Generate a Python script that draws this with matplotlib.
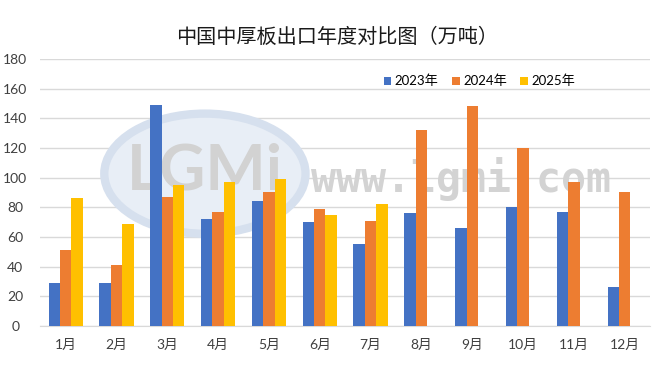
import matplotlib
matplotlib.use("Agg")
import matplotlib.pyplot as plt
from matplotlib.patches import Ellipse
from matplotlib.ticker import MultipleLocator
import numpy as np

plt.rcParams['font.family'] = ['Lato', 'Noto Sans CJK SC', 'DejaVu Sans']

months = ['1月', '2月', '3月', '4月', '5月', '6月', '7月', '8月', '9月', '10月', '11月', '12月']
series_names = ['2023年', '2024年', '2025年']
exports_2023 = [29, 29, 149, 72, 84, 70, 55, 76, 66, 80, 77, 26]
exports_2024 = [51, 41, 87, 77, 90, 79, 71, 132, 148, 120, 97, 90]
exports_2025 = [86, 69, 95, 97, 99, 75, 82]
colors = ['#4472C4', '#ED7D31', '#FFC000']


def main():
    fig = plt.figure(figsize=(6.6, 3.75), dpi=100)
    ax = fig.add_axes([0.061, 0.131, 0.924, 0.712])

    # faint watermark behind the bars
    wm = Ellipse((0.27, 0.57), 0.33, 0.45, transform=ax.transAxes,
                 facecolor='#E8EEF6', edgecolor='#D6E0EE', linewidth=6, zorder=1)
    ax.add_patch(wm)
    ax.text(0.27, 0.58, 'LGMi', fontsize=46, color='#D2D2D2', ha='center',
            va='center', fontweight='bold', transform=ax.transAxes, zorder=1.5)
    ax.text(0.69, 0.55, 'www.lgmi.com', fontsize=30, color='#D3D3D3',
            ha='center', va='center', family='DejaVu Sans Mono',
            fontweight='bold', transform=ax.transAxes, zorder=1.5)

    x = np.arange(len(months))
    w = 0.225
    data = [exports_2023, exports_2024, exports_2025]
    for i, vals in enumerate(data):
        xs = x[:len(vals)] + (i - 1) * w
        ax.bar(xs, vals, width=w, color=colors[i], label=series_names[i], zorder=3)

    ax.set_xlim(-0.5, len(months) - 0.5)
    ax.set_ylim(0, 180)
    ax.yaxis.set_major_locator(MultipleLocator(20))
    ax.set_xticks(x)
    ax.set_xticklabels(months)
    ax.grid(axis='y', color='#D9D9D9', linewidth=1, zorder=0)
    ax.set_axisbelow(True)
    for s in ['top', 'right', 'left']:
        ax.spines[s].set_visible(False)
    ax.spines['bottom'].set_color('#D9D9D9')
    ax.tick_params(axis='both', length=0, labelsize=10, colors='#404040')
    ax.tick_params(axis='x', pad=9)
    ax.tick_params(axis='y', pad=18)
    for lbl in ax.get_yticklabels():
        lbl.set_horizontalalignment('center')

    fig.text(0.51, 0.9, '中国中厚板出口年度对比图（万吨）', fontsize=14.5,
             ha='center', va='center', color='#1A1A1A',
             family=['Noto Sans CJK SC', 'DejaVu Sans'])

    ax.legend(loc='upper center', bbox_to_anchor=(0.72, 0.985), ncol=3,
              frameon=False, fontsize=9.5, handlelength=0.6, handleheight=0.6,
              handletextpad=0.25, columnspacing=1.0)

    fig.savefig('out.png', dpi=100)


if __name__ == '__main__':
    main()
